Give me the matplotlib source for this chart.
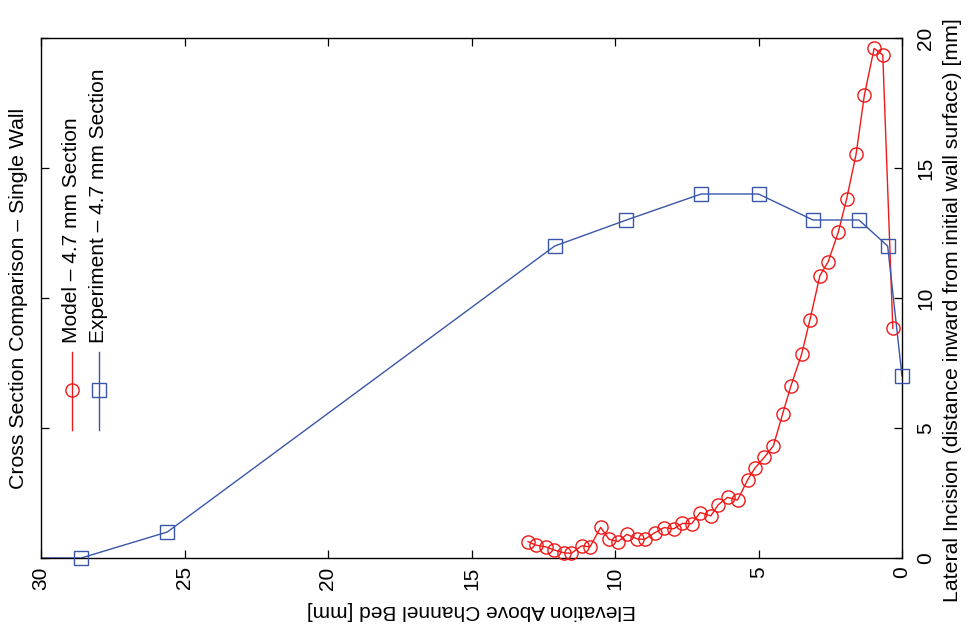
"""Cross section comparison (single wall), drawn in the rotated landscape layout."""

import matplotlib
matplotlib.use("Agg")
import matplotlib.pyplot as plt

plt.rcParams["font.family"] = ["Liberation Sans", "DejaVu Sans"]

# ── data (elevation above bed [mm], lateral incision [mm]) ──────────────────
model_elev = [13.03, 12.77, 12.42, 12.13, 11.78, 11.52, 11.16, 10.87, 10.50,
              10.21, 9.89, 9.59, 9.22, 8.96, 8.62, 8.29, 7.96, 7.65, 7.33,
              7.03, 6.66, 6.41, 6.08, 5.73, 5.38, 5.13, 4.80, 4.48, 4.16,
              3.87, 3.50, 3.21, 2.86, 2.57, 2.22, 1.93, 1.60, 1.31, 0.97,
              0.67, 0.32]
model_lat = [0.63, 0.50, 0.43, 0.31, 0.20, 0.18, 0.47, 0.43, 1.18,
             0.72, 0.63, 0.91, 0.73, 0.72, 0.97, 1.17, 1.12, 1.33, 1.32,
             1.75, 1.62, 2.04, 2.33, 2.23, 3.00, 3.45, 3.87, 4.32, 5.54,
             6.62, 7.83, 9.15, 10.86, 11.40, 12.53, 13.81, 15.53, 17.81, 19.60,
             19.35, 8.83]

exp_elev = [32.0, 28.6, 25.6, 12.1, 9.6, 7.0, 5.0, 3.1, 1.5, 0.5, 0.0]
exp_lat = [0.0, 0.0, 1.0, 12.0, 13.0, 14.0, 14.0, 13.0, 13.0, 12.0, 7.0]

x_ticks = [30, 25, 20, 15, 10, 5, 0]
y_ticks = [0, 5, 10, 15, 20]

RED = "#f01818"
BLUE = "#3a56a8"
FS = 15
XMAX, XMIN = 30, 0

fig = plt.figure(figsize=(9.69, 6.35), dpi=100)
ax = fig.add_axes([41 / 969, 77 / 635, 861 / 969, 520 / 635])


def draw_series(xs, ys, color, marker):
    # line clipped to the box, markers (inside the x range) left unclipped
    ax.plot(xs, ys, color=color, lw=1.0)
    pts = [(x, y) for x, y in zip(xs, ys) if XMIN <= x <= XMAX]
    ax.plot([p[0] for p in pts], [p[1] for p in pts], ls="none",
            marker=marker, ms=9.5, mfc="none", mec=color, mew=1.0,
            clip_on=False, zorder=3)


draw_series(model_elev, model_lat, RED, "o")
draw_series(exp_elev, exp_lat, BLUE, "s")

ax.set_xlim(XMAX, XMIN)
ax.set_ylim(0, 20)
ax.set_xticks(x_ticks)
ax.set_yticks(y_ticks)
ax.tick_params(axis="both", direction="in", length=5.5, width=0.9,
               labelsize=FS, top=True, bottom=True, left=True, right=True)
ax.tick_params(axis="x", labelrotation=90, pad=6)
ax.tick_params(axis="y", labelleft=False, labelright=True, labelrotation=90,
               pad=10)
for lbl in ax.get_yticklabels():
    lbl.set_verticalalignment("center")
for s in ax.spines.values():
    s.set_linewidth(1.0)

ax.set_xlabel("Elevation Above Channel Bed [mm]", fontsize=FS, rotation=180,
              labelpad=8)

# right-hand label sits a little below the axes centre in the reference
fig.text(952 / 969, 1 - 310 / 635,
         "Lateral Incision (distance inward from initial wall surface) [mm]",
         rotation=90, ha="center", va="center", fontsize=15.3)

fig.text(19 / 969, 0.5 * (77 + 597) / 635,
         "Cross Section Comparison \u2013 Single Wall",
         rotation=90, ha="center", va="center", fontsize=15.3)

# ── rotated legend, drawn by hand ───────────────────────────────────────────
legend = [("Model \u2013 4.7 mm Section", RED, "o", 0.036),
          ("Experiment \u2013 4.7 mm Section", BLUE, "s", 0.067)]
for text, col, mk, lx in legend:
    ax.plot([lx, lx], [0.246, 0.396], color=col, lw=1.0,
            transform=ax.transAxes, clip_on=False)
    ax.plot([lx], [0.323], marker=mk, ms=9.5, mfc="none", mec=col, mew=1.0,
            transform=ax.transAxes, clip_on=False)
    ax.text(lx, 0.413, text, rotation=90, ha="center", va="bottom",
            fontsize=FS, transform=ax.transAxes)

fig.savefig("out.png", dpi=100)
